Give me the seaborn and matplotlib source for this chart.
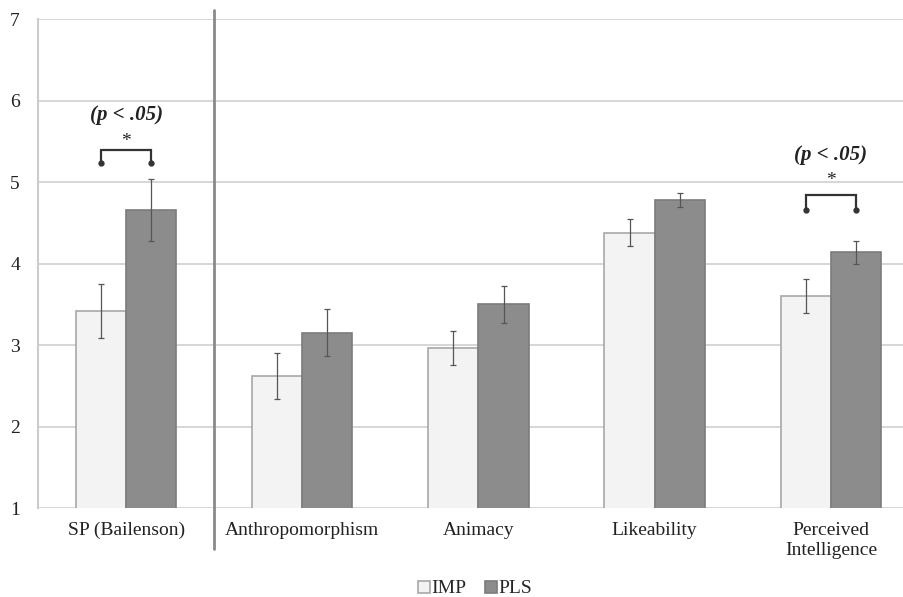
import numpy as np
import pandas as pd
import seaborn as sns
import matplotlib.pyplot as plt
from matplotlib.lines import Line2D

# données
categories = ["SP (Bailenson)", "Anthropomorphism", "Animacy", "Likeability",
              "Perceived\nIntelligence"]
groups = ["IMP", "PLS"]
imp_mean = [3.42, 2.62, 2.96, 4.38, 3.60]
pls_mean = [4.66, 3.15, 3.50, 4.78, 4.14]
imp_err = [0.33, 0.28, 0.21, 0.17, 0.21]
pls_err = [0.38, 0.29, 0.23, 0.08, 0.14]

# crochets : (catégorie, hauteur crochet, points, étoile, texte)
sig_pairs = [(0, 5.39, 5.23, 5.44, 5.76), (4, 4.84, 4.66, 4.96, 5.27)]
sig_text = "(p < .05)"

df = pd.DataFrame({
    "category": categories * 2,
    "group": [groups[0]] * len(categories) + [groups[1]] * len(categories),
    "score": imp_mean + pls_mean,
    "err": imp_err + pls_err,
})

sns.set_style("white")
plt.rcParams['font.family'] = ['Liberation Serif', 'DejaVu Serif']

fig = plt.figure(figsize=(9.04, 5.97), dpi=100)
ax = fig.add_axes([0.042, 0.149, 0.958, 0.819])

colors = {"IMP": "#f3f3f3", "PLS": "#8c8c8c"}
edges = {"IMP": "#a8a8a8", "PLS": "#7c7c7c"}
bar_w = 0.57

sns.barplot(data=df, x="category", y="score", hue="group", order=categories,
            hue_order=groups, palette=colors, width=bar_w, gap=0,
            errorbar=None, ax=ax, legend=False, zorder=3)

# bords et barres d'erreur depuis les patches seaborn
n = len(categories)
for i, patch in enumerate(ax.patches[:2 * n]):
    g = groups[i // n]
    patch.set_edgecolor(edges[g])
    patch.set_linewidth(1.2)
    xc = patch.get_x() + patch.get_width() / 2
    ax.errorbar(xc, df["score"].iloc[i], yerr=df["err"].iloc[i], fmt="none",
                ecolor="#555555", elinewidth=0.9, capsize=2.5, capthick=0.9,
                zorder=4)

ax.set_ylim(1, 7)
ax.set_xlim(-0.5, 4.415)
ax.set_yticks(range(1, 8))
ax.yaxis.grid(True, color="#d0d0d0", linewidth=1.2, zorder=0)
ax.set_axisbelow(True)
for side in ["top", "right", "bottom"]:
    ax.spines[side].set_visible(False)
ax.spines["left"].set_color("#cccccc")
ax.spines["left"].set_linewidth(1.5)
ax.set_xlabel("")
ax.set_ylabel("")
ax.tick_params(axis="both", length=0, labelsize=14, colors="#222222")
ax.tick_params(axis="y", pad=13)
ax.tick_params(axis="x", pad=10)

# séparateur vertical
ax.plot([0.5, 0.5], [0.5, 7.11], color="#8a8a8a", lw=2, clip_on=False, zorder=5)

# crochets de significativité
w = bar_w / 4
for idx, top, dot, star_y, txt_y in sig_pairs:
    x0, x1 = idx - w, idx + w
    ax.plot([x0, x0, x1, x1], [dot, top, top, dot], color="#333333", lw=1.6,
            zorder=5, solid_joinstyle="miter")
    ax.plot([x0, x1], [dot, dot], "o", color="#333333", ms=3.5, zorder=5)
    ax.text(idx, star_y, "*", ha="center", va="baseline", fontsize=14,
            color="#222222")
    ax.text(idx, txt_y, sig_text, ha="center", va="baseline", fontsize=15,
            fontweight="bold", style="italic", color="#222222")

handles = [Line2D([], [], marker="s", ls="", ms=9, markerfacecolor=colors[g],
                  markeredgecolor=edges[g], markeredgewidth=1.2) for g in groups]
fig.legend(handles, groups, loc="lower center", bbox_to_anchor=(0.525, -0.03),
           ncol=2, frameon=False, fontsize=14, handlelength=0.7,
           handletextpad=0.05, columnspacing=0.9)

plt.savefig("out.png", dpi=100)
